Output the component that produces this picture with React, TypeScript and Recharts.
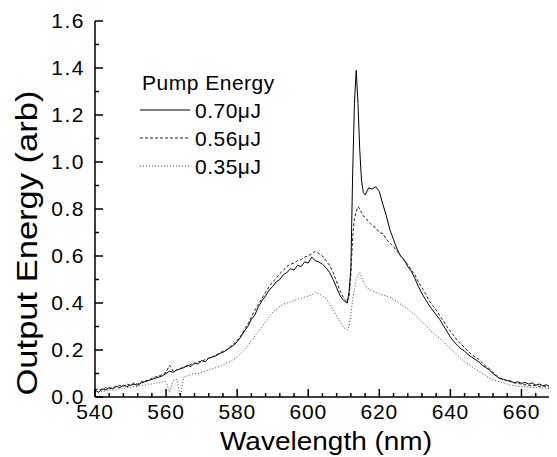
import React from 'react';
import { LineChart, Line, XAxis, YAxis, Legend } from 'recharts';

const FONT = "'Liberation Sans', Arial, Helvetica, sans-serif";

// Wavelength grid (nm)
const wavelengths = [
  540, 541, 542, 543, 544, 545, 546, 547, 548, 549,
  550, 551, 552, 553, 554, 555, 556, 557, 558, 559,
  560, 561, 562, 563, 564, 565, 566, 567, 568, 569,
  570, 571, 572, 573, 574, 575, 576, 577, 578, 579,
  580, 581, 582, 583, 584, 585, 586, 587, 588, 589,
  590, 591, 592, 593, 594, 595, 596, 597, 598, 599,
  600, 601, 602, 603, 604, 605, 606, 607, 608, 609,
  610, 611, 611.5, 612, 612.5, 613, 613.5, 614, 614.5, 615,
  615.5, 616, 617, 618, 619, 620, 621, 622, 623, 624,
  625, 626, 627, 628, 629, 630, 631, 632, 633, 634,
  635, 636, 637, 638, 639, 640, 641, 642, 643, 644,
  645, 646, 647, 648, 649, 650, 651, 652, 653, 654,
  655, 656, 657, 658, 659, 660, 661, 662, 663, 664,
  665, 666, 667, 668, 669, 670,
];

// Pump energy 0.70 uJ (solid)
const energy070 = [
  0.03, 0.02, 0.035, 0.03, 0.04, 0.035, 0.045, 0.04, 0.05, 0.045,
  0.05, 0.055, 0.05, 0.06, 0.065, 0.07, 0.075, 0.08, 0.085, 0.09,
  0.1, 0.11, 0.105, 0.115, 0.12, 0.125, 0.135, 0.13, 0.145, 0.14,
  0.155, 0.15, 0.165, 0.17, 0.175, 0.185, 0.19, 0.2, 0.21, 0.22,
  0.235, 0.255, 0.28, 0.3, 0.33, 0.35, 0.385, 0.41, 0.43, 0.455,
  0.47, 0.49, 0.5, 0.52, 0.53, 0.545, 0.54, 0.56, 0.555, 0.575,
  0.57, 0.595, 0.58, 0.575, 0.565, 0.55, 0.53, 0.5, 0.465, 0.43,
  0.41, 0.4, 0.45, 0.55, 0.95, 1.25, 1.39, 1.25, 1.05, 0.92,
  0.87, 0.86, 0.89, 0.885, 0.895, 0.875, 0.82, 0.77, 0.71, 0.67,
  0.63, 0.6, 0.585, 0.555, 0.535, 0.505, 0.47, 0.44, 0.415, 0.39,
  0.37, 0.35, 0.33, 0.305, 0.28, 0.255, 0.235, 0.22, 0.205, 0.195,
  0.18, 0.17, 0.16, 0.15, 0.135, 0.125, 0.115, 0.1, 0.088, 0.078,
  0.075, 0.07, 0.068, 0.06, 0.065, 0.058, 0.062, 0.055, 0.06, 0.05,
  0.055, 0.048, 0.052, 0.045, 0.05, 0.044,
];

// Pump energy 0.56 uJ (dashed)
const energy056 = [
  0.03, 0.035, 0.03, 0.04, 0.035, 0.04, 0.045, 0.05, 0.045, 0.055,
  0.05, 0.06, 0.055, 0.065, 0.07, 0.07, 0.08, 0.085, 0.09, 0.095,
  0.105, 0.135, 0.11, 0.115, 0.12, 0.13, 0.13, 0.14, 0.14, 0.15,
  0.15, 0.16, 0.165, 0.17, 0.18, 0.185, 0.195, 0.2, 0.215, 0.225,
  0.24, 0.26, 0.285, 0.31, 0.34, 0.37, 0.395, 0.42, 0.445, 0.47,
  0.49, 0.505, 0.525, 0.54, 0.555, 0.565, 0.57, 0.58, 0.585, 0.595,
  0.6, 0.61, 0.62, 0.61, 0.6, 0.58, 0.56, 0.53, 0.49, 0.45,
  0.42, 0.405, 0.43, 0.52, 0.68, 0.76, 0.79, 0.81, 0.8, 0.785,
  0.77, 0.765, 0.745, 0.73, 0.72, 0.7, 0.695, 0.67, 0.655, 0.64,
  0.62, 0.6, 0.58, 0.565, 0.54, 0.52, 0.49, 0.465, 0.44, 0.41,
  0.39, 0.37, 0.345, 0.325, 0.3, 0.28, 0.26, 0.24, 0.225, 0.21,
  0.195, 0.18, 0.17, 0.16, 0.145, 0.13, 0.12, 0.105, 0.092, 0.08,
  0.075, 0.068, 0.065, 0.06, 0.058, 0.055, 0.052, 0.05, 0.048, 0.05,
  0.045, 0.047, 0.044, 0.042, 0.045, 0.04,
];

// Pump energy 0.35 uJ (dotted)
const energy035 = [
  0.02, 0.02, 0.025, 0.025, 0.03, 0.03, 0.03, 0.035, 0.035, 0.04,
  0.04, 0.045, 0.045, 0.05, 0.05, 0.055, 0.055, 0.06, 0.06, 0.065,
  0.065, 0.02, 0.07, 0.075, 0.0, 0.085, 0.09, 0.095, 0.1, 0.1,
  0.105, 0.11, 0.115, 0.12, 0.125, 0.13, 0.135, 0.145, 0.15, 0.16,
  0.17, 0.185, 0.2, 0.22, 0.24, 0.26, 0.28, 0.3, 0.32, 0.34,
  0.36, 0.375, 0.385, 0.395, 0.4, 0.405, 0.41, 0.415, 0.42, 0.425,
  0.43, 0.435, 0.445, 0.44, 0.43, 0.42, 0.4, 0.37, 0.345, 0.32,
  0.295, 0.285, 0.3, 0.35, 0.41, 0.46, 0.5, 0.52, 0.53, 0.51,
  0.49, 0.475, 0.46, 0.45, 0.445, 0.44, 0.435, 0.43, 0.425, 0.415,
  0.405, 0.395, 0.385, 0.375, 0.36, 0.35, 0.335, 0.32, 0.305, 0.29,
  0.275, 0.26, 0.25, 0.235, 0.22, 0.205, 0.19, 0.178, 0.165, 0.15,
  0.14, 0.13, 0.12, 0.11, 0.1, 0.09, 0.08, 0.075, 0.068, 0.064,
  0.06, 0.055, 0.05, 0.048, 0.046, 0.045, 0.044, 0.042, 0.041, 0.04,
  0.04, 0.038, 0.038, 0.036, 0.036, 0.035,
];

const seriesNames = ['0.70\u03bcJ', '0.56\u03bcJ', '0.35\u03bcJ'];
const legendTitle = 'Pump Energy';

const xTicks = [
  540, 544, 548, 552, 556, 560, 564, 568, 572, 576, 580, 584, 588, 592, 596,
  600, 604, 608, 612, 616, 620, 624, 628, 632, 636, 640, 644, 648, 652, 656,
  660, 664, 668,
];
const xTickLabels = [540, 560, 580, 600, 620, 640, 660];
const yTicks = [0, 0.1, 0.2, 0.3, 0.4, 0.5, 0.6, 0.7, 0.8, 0.9, 1.0, 1.1, 1.2, 1.3, 1.4, 1.5, 1.6];
const yTickLabels = [0, 0.2, 0.4, 0.6, 0.8, 1.0, 1.2, 1.4, 1.6];

const data = wavelengths.map((wl, i) => ({
  wl,
  e70: energy070[i],
  e56: energy056[i],
  e35: energy035[i],
}));

const styles = [
  { key: 'e70', color: '#000', dash: undefined as string | undefined },
  { key: 'e56', color: '#222', dash: '3 2' },
  { key: 'e35', color: '#444', dash: '1 2' },
];

const XTick = (props: any) => {
  const { x, y, payload } = props;
  const v = payload.value;
  const major = xTickLabels.includes(v);
  return (
    <g>
      <line x1={x} y1={y} x2={x} y2={y - (major ? 8 : 4)} stroke="#000" strokeWidth={1.5} />
      {major && (
        <text x={x} y={y + 22} textAnchor="middle" fontSize={21} fontFamily={FONT} fill="#000" letterSpacing={0.8}>
          {v}
        </text>
      )}
    </g>
  );
};

const YTick = (props: any) => {
  const { x, y, payload } = props;
  const v = payload.value;
  const major = yTickLabels.includes(v);
  return (
    <g>
      <line x1={x} y1={y} x2={x + (major ? 8 : 4)} y2={y} stroke="#000" strokeWidth={1.5} />
      {major && (
        <text x={x - 10} y={y + 7} textAnchor="end" fontSize={21} fontFamily={FONT} fill="#000" letterSpacing={1.5}>
          {Number(v).toFixed(1)}
        </text>
      )}
    </g>
  );
};

const xLabel = (p: any) => {
  const vb = p.viewBox;
  return (
    <text
      x={vb.x + vb.width / 2}
      y={vb.y + 53}
      textAnchor="middle"
      fontSize={25}
      fontFamily={FONT}
      fill="#000"
      textLength={212}
      lengthAdjust="spacingAndGlyphs"
    >
      Wavelength (nm)
    </text>
  );
};

const yLabel = (p: any) => {
  const vb = p.viewBox;
  const cx = vb.x + 29;
  const cy = vb.y + vb.height / 2 + 34;
  return (
    <text
      x={cx}
      y={cy}
      transform={`rotate(-90, ${cx}, ${cy})`}
      textAnchor="middle"
      fontSize={29}
      fontFamily={FONT}
      fill="#000"
      textLength={305}
      lengthAdjust="spacingAndGlyphs"
    >
      Output Energy (arb)
    </text>
  );
};

const renderLegend = () => (
  <svg width={170} height={120} style={{ display: 'block' }}>
    <text x={4} y={21.5} fontSize={21} fontFamily={FONT} fill="#000" letterSpacing={0.5}>
      {legendTitle}
    </text>
    {seriesNames.map((name, i) => {
      const cy = 42 + i * 28;
      return (
        <g key={name}>
          <line x1={2} y1={cy} x2={52} y2={cy} stroke={styles[i].color} strokeWidth={1} strokeDasharray={styles[i].dash} />
          <text x={57} y={cy + 7.5} fontSize={21} fontFamily={FONT} fill="#000" letterSpacing={0.5}>
            {name}
          </text>
        </g>
      );
    })}
  </svg>
);

export default function App() {
  return (
    <LineChart width={549} height={449} data={data} margin={{ top: 13, right: 0, bottom: 0, left: 0 }}>
      <XAxis
        dataKey="wl"
        type="number"
        domain={[540, 670]}
        ticks={xTicks}
        interval={0}
        tickSize={0}
        tickMargin={0}
        tickLine={false}
        tick={(p: any) => <XTick {...p} />}
        axisLine={{ stroke: '#000', strokeWidth: 1.5 }}
        height={60}
        allowDataOverflow
        label={xLabel}
      />
      <YAxis
        type="number"
        domain={[0, 1.6]}
        ticks={yTicks}
        interval={0}
        tickSize={0}
        tickMargin={0}
        tickLine={false}
        tick={(p: any) => <YTick {...p} />}
        axisLine={{ stroke: '#000', strokeWidth: 1.5 }}
        width={87}
        allowDataOverflow
        label={yLabel}
      />
      <Legend
        layout="vertical"
        align="center"
        verticalAlign="middle"
        content={renderLegend}
        wrapperStyle={{ left: 130, top: 60, width: 170, height: 120 }}
      />
      {styles.map((s, i) => (
        <Line
          key={s.key}
          dataKey={s.key}
          name={seriesNames[i]}
          stroke={s.color}
          strokeWidth={1}
          strokeDasharray={s.dash}
          dot={false}
          activeDot={false}
          isAnimationActive={false}
          type="linear"
        />
      ))}
    </LineChart>
  );
}
